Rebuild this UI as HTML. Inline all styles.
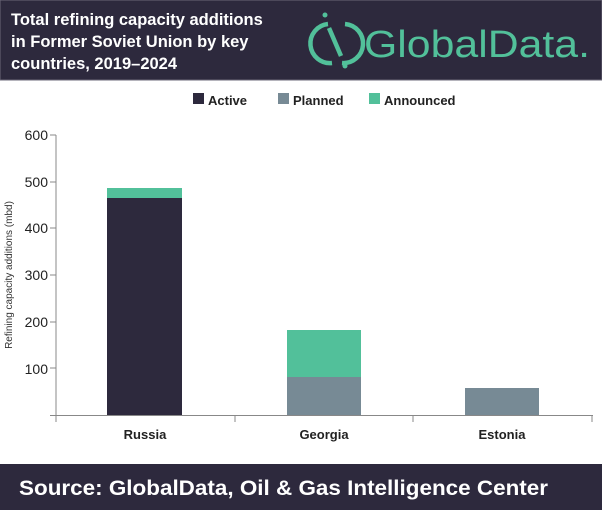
<!DOCTYPE html>
<html><head><style>
body{margin:0;width:602px;height:510px;background:#fff;font-family:"Liberation Sans",sans-serif;overflow:hidden}
</style></head><body>
<svg width="602" height="510" xmlns="http://www.w3.org/2000/svg" font-family="Liberation Sans, sans-serif">
<rect x="0" y="0" width="602" height="80" fill="#2d293d" stroke="#6b6878" stroke-width="1"/>
<text fill="#fff" font-size="16.5" font-weight="bold"><tspan x="11" y="25">Total refining capacity additions</tspan><tspan x="11" y="47">in Former Soviet Union by key</tspan><tspan x="11" y="69">countries, 2019–2024</tspan></text>
<g fill="none" stroke="#52c09a" stroke-width="4.5">
<path d="M328 24 A19 19 0 0 0 332 63"/><path d="M345 24 A19 19 0 0 1 342 63"/>
<line x1="329" y1="28" x2="341" y2="56"/></g>
<circle cx="282" cy="15" r="0" fill="#52c09a"/>
<circle cx="283" cy="15" r="0"/>
<circle cx="282" cy="15" r="0"/>
<circle cx="282" cy="15" r="0"/>
<circle cx="282" cy="15" r="0"/>
<circle cx="282" cy="15" r="0"/>
<circle cx="282" cy="15" r="0"/>
<circle cx="282" cy="15" r="0"/>
<circle cx="282" cy="15" r="0"/>
<circle cx="282" cy="15" r="0"/>
<circle cx="325" cy="15" r="2.5" fill="#52c09a"/><circle cx="345" cy="66" r="2.5" fill="#52c09a"/>
<text x="364" y="57" fill="#52c09a" font-size="38" textLength="226" lengthAdjust="spacingAndGlyphs">GlobalData.</text>
<rect x="193" y="93" width="11" height="11" fill="#2d293d"/><text x="208" y="105" font-size="13" font-weight="bold" fill="#222">Active</text>
<rect x="278" y="93" width="11" height="11" fill="#778a95"/><text x="293" y="105" font-size="13" font-weight="bold" fill="#222">Planned</text>
<rect x="369" y="93" width="11" height="11" fill="#52c09a"/><text x="384" y="105" font-size="13" font-weight="bold" fill="#222">Announced</text>
<g font-size="14" fill="#222" text-anchor="end">
<text x="48" y="140">600</text><text x="48" y="187">500</text><text x="48" y="233">400</text><text x="48" y="280">300</text><text x="48" y="327">200</text><text x="48" y="374">100</text></g>
<g stroke="#888" stroke-width="1">
<line x1="56" y1="135" x2="56" y2="422"/><line x1="50" y1="415.5" x2="593" y2="415.5"/>
<line x1="50" y1="135" x2="56" y2="135"/><line x1="50" y1="182" x2="56" y2="182"/><line x1="50" y1="228" x2="56" y2="228"/><line x1="50" y1="275" x2="56" y2="275"/><line x1="50" y1="322" x2="56" y2="322"/><line x1="50" y1="368" x2="56" y2="368"/>
<line x1="235" y1="415" x2="235" y2="422"/><line x1="413" y1="415" x2="413" y2="422"/><line x1="592" y1="415" x2="592" y2="422"/></g>
<text transform="translate(12,275) rotate(-90)" font-size="10" fill="#333" text-anchor="middle">Refining capacity additions (mbd)</text>
<rect x="107" y="198" width="75" height="217" fill="#2d293d"/><rect x="107" y="188" width="75" height="10" fill="#52c09a"/>
<rect x="287" y="377" width="74" height="38" fill="#778a95"/><rect x="287" y="330" width="74" height="47" fill="#52c09a"/>
<rect x="465" y="388" width="74" height="27" fill="#778a95"/>
<g font-size="13" font-weight="bold" fill="#222" text-anchor="middle">
<text x="145" y="439">Russia</text><text x="324" y="439">Georgia</text><text x="502" y="439">Estonia</text></g>
<rect x="0" y="464" width="602" height="46" fill="#2d293d"/>
<text x="19" y="495" fill="#fff" font-size="21" font-weight="bold" textLength="529" lengthAdjust="spacingAndGlyphs">Source:  GlobalData, Oil &amp; Gas Intelligence Center</text>
</svg>
</body></html>
